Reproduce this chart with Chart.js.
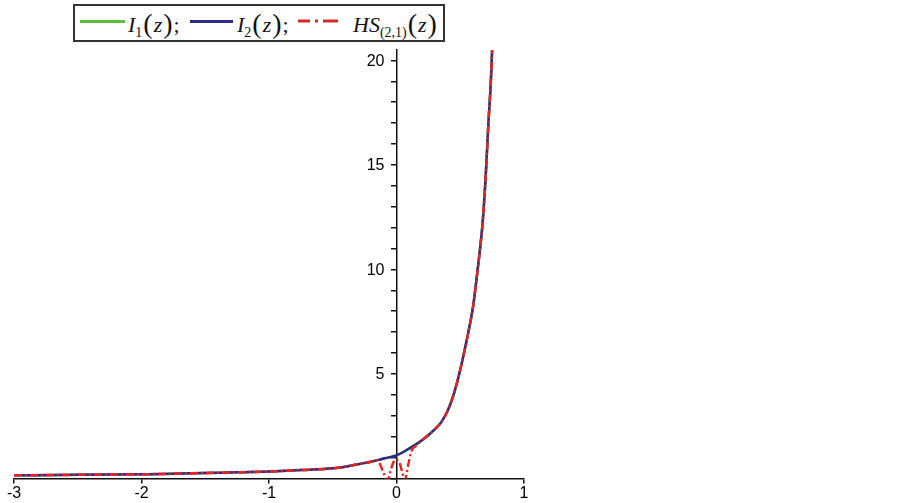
<!DOCTYPE html>
<html>
<head>
<meta charset="utf-8">
<script src="https://cdn.jsdelivr.net/npm/chart.js@4/dist/chart.umd.min.js"></script>
<style>
  html, body { margin: 0; padding: 0; background: #fff; }
  #wrap { position: relative; width: 903px; height: 503px; }
  #legend {
    position: absolute; left: 73px; top: 4px; width: 372px; height: 38px;
    box-sizing: border-box; border: 2px solid #333; background: #fff;
    font-family: "Liberation Serif", "DejaVu Serif", serif; font-size: 22px; color: #111;
  }
  #legend .sw { position: absolute; top: 14px; height: 3px; }
  #legend .tx { position: absolute; top: 1px; white-space: nowrap; line-height: 32px; }
  #legend .p { font-size: 28px; font-style: normal; margin: 0 1px; position: relative; top: 1px; }
  #legend sub { font-size: 14px; vertical-align: -5px; line-height: 0; }
</style>
</head>
<body>
<div id="wrap">
  <canvas id="chart"></canvas>
  <div id="legend">
    <div class="sw" style="left:5px;width:45px;background:#5cbf3c"></div>
    <div class="tx" style="left:53px"><i>I</i><sub>1</sub><span class="p">(</span><i>z</i><span class="p">)</span>;</div>
    <div class="sw" style="left:115px;width:43px;background:#2a2a8a"></div>
    <div class="tx" style="left:162px"><i>I</i><sub>2</sub><span class="p">(</span><i>z</i><span class="p">)</span>;</div>
    <svg style="position:absolute;left:223px;top:11px" width="40" height="8">
      <line x1="0" y1="4" x2="40" y2="4" stroke="#d42a2a" stroke-width="3" stroke-dasharray="12,5,3,5,15"/>
    </svg>
    <div class="tx" style="left:278px"><i>HS</i><sub>(2,1)</sub><span class="p">(</span><i>z</i><span class="p">)</span></div>
  </div>
</div>
<script>
// ── DATA ─────────────────────────────────────────
// I1(z) and I2(z) coincide on the picture
const xVals = [-3, -2.5, -2, -1.75, -1.5, -1.25, -1, -0.75, -0.5, -0.4, -0.3, -0.2, -0.1,
               0, 0.1, 0.2, 0.3, 0.35, 0.4, 0.45, 0.5, 0.55, 0.6, 0.625, 0.65, 0.675,
               0.7, 0.72, 0.74, 0.75];
const i1Vals = [0.15, 0.17, 0.2, 0.22, 0.26, 0.29, 0.33, 0.4, 0.48, 0.56, 0.68, 0.8, 0.95,
                1.1, 1.43, 1.82, 2.35, 2.68, 3.22, 4.05, 5.2, 6.6, 8.2, 9.4, 10.7, 12.2,
                14.5, 16.9, 19.0, 20.5];
const i2Vals = i1Vals.slice();

// HS(2,1)(z) follows the curve except two dips around z = 0
const hsX = [-3, -2.5, -2, -1.75, -1.5, -1.25, -1, -0.75, -0.5, -0.4, -0.3, -0.2, -0.15,
             -0.11, -0.07, -0.04, -0.01, 0.02, 0.045, 0.065, 0.09, 0.12, 0.15, 0.2, 0.3,
             0.35, 0.4, 0.45, 0.5, 0.55, 0.6, 0.625, 0.65, 0.675, 0.7, 0.72, 0.74, 0.75];
const hsY = [0.15, 0.17, 0.2, 0.22, 0.26, 0.29, 0.33, 0.4, 0.48, 0.56, 0.68, 0.8, 0.87,
             0.4, -0.1, 0.5, 0.9, 0.8, 0.3, -0.1, 0.6, 1.35, 1.55, 1.82, 2.35,
             2.68, 3.22, 4.05, 5.2, 6.6, 8.2, 9.4, 10.7, 12.2, 14.5, 16.9, 19.0, 20.5];

const xTicks = [-3, -2, -1, 0, 1];
const yLabels = [5, 10, 15, 20];

// ── CHART ────────────────────────────────────────
const pts = (xs, ys) => xs.map((x, i) => ({ x, y: ys[i] }));

const FONT = "16px 'Liberation Sans', Arial, sans-serif";

// y labels sit left of the centred axis
const yLabelPlugin = {
  id: "yLabels",
  afterDraw(chart) {
    const { ctx, scales: { x, y } } = chart;
    const ax = x.getPixelForValue(0);
    ctx.save();
    ctx.font = FONT;
    ctx.fillStyle = "#000";
    ctx.textAlign = "right";
    ctx.textBaseline = "middle";
    yLabels.forEach(v => ctx.fillText(String(v), ax - 12, y.getPixelForValue(v) + 1));
    ctx.restore();
  },
};

new Chart(document.getElementById("chart"), {
  type: "line",
  data: {
    datasets: [
      { data: pts(xVals, i1Vals), borderColor: "#5cbf3c", borderWidth: 2.5, order: 3 },
      { data: pts(xVals, i2Vals), borderColor: "#2a2a8a", borderWidth: 2.5, order: 2 },
      { data: pts(hsX, hsY), borderColor: "#e02525", borderWidth: 2.5, order: 1,
        borderDash: [8, 3, 2, 3] },
    ],
  },
  options: {
    responsive: true,
    maintainAspectRatio: false,
    animation: false,
    layout: { padding: { left: 14, right: 379, top: 50, bottom: 0 } },
    elements: {
      point: { radius: 0 },
      line: { cubicInterpolationMode: "monotone" },
    },
    plugins: { legend: { display: false }, tooltip: { enabled: false } },
    scales: {
      x: {
        type: "linear",
        min: -3, max: 1,
        afterBuildTicks: s => { s.ticks = xTicks.map(v => ({ value: v })); },
        ticks: { color: "#000", font: { family: "'Liberation Sans', Arial, sans-serif", size: 16, lineHeight: 1.1 }, padding: 1, maxRotation: 0 },
        grid: { drawOnChartArea: false, drawTicks: true, tickLength: 5, color: "#111", lineWidth: 1.5 },
        border: { display: true, color: "#111", width: 1.5 },
      },
      y: {
        type: "linear",
        position: { x: 0 },
        min: 0, max: 20.5,
        ticks: { stepSize: 1, includeBounds: false, display: false },
        grid: { drawOnChartArea: false, drawTicks: true, tickLength: 5, color: "#111", lineWidth: 1.5 },
        border: { display: true, color: "#111", width: 1.5 },
      },
    },
  },
  plugins: [yLabelPlugin],
});
</script>
</body>
</html>
